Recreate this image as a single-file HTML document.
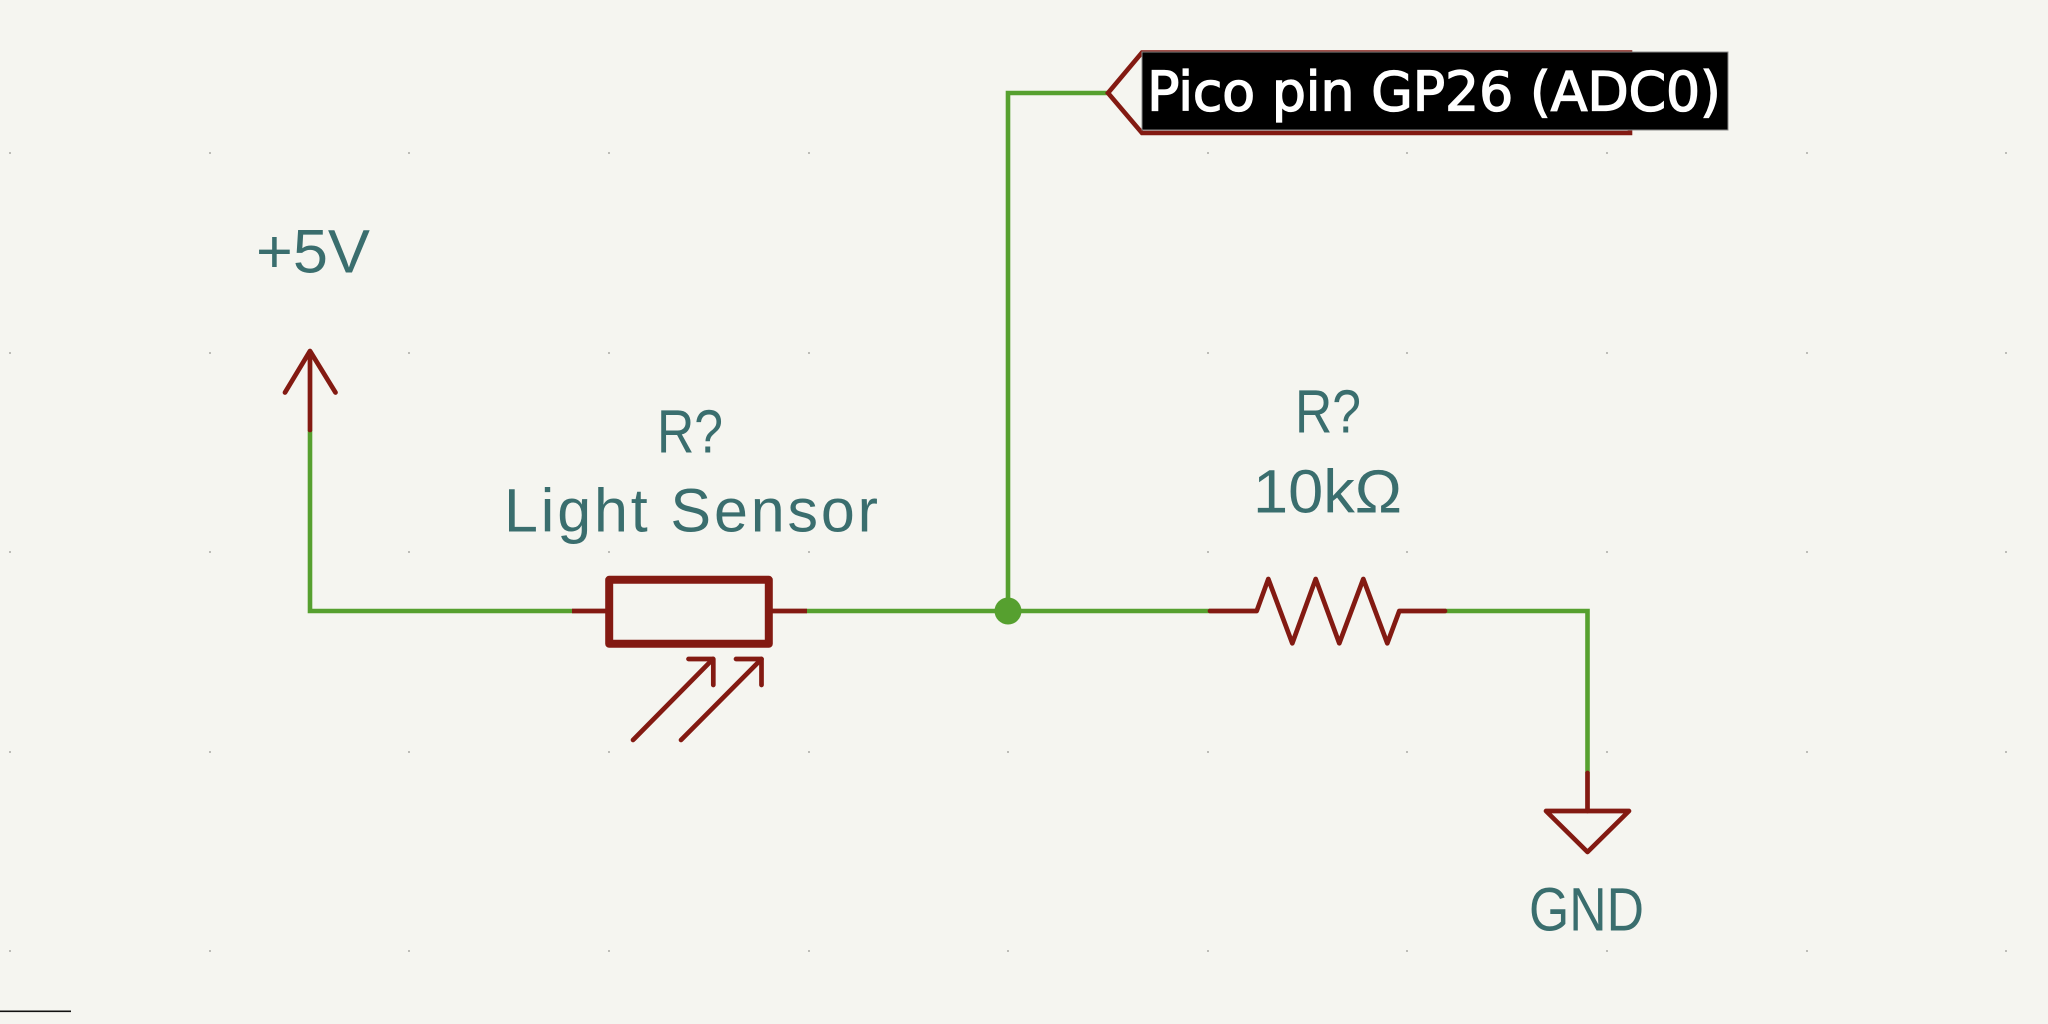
<!DOCTYPE html>
<html>
<head>
<meta charset="utf-8">
<style>
  html, body { margin: 0; padding: 0; background: #f5f5f0; }
  body { width: 2048px; height: 1024px; overflow: hidden; }
  svg { display: block; }
  .t { font-family: "Liberation Sans", "DejaVu Sans", sans-serif; font-size: 61px; fill: #3a6e6e; }
</style>
</head>
<body>
<svg width="2048" height="1024" viewBox="0 0 2048 1024" xmlns="http://www.w3.org/2000/svg">
  <rect x="0" y="0" width="2048" height="1024" fill="#f5f5f0"/>

  <!-- grid dots -->
  <g fill="#bdbdb8">
    <rect x="9" y="152" width="2" height="2"/><rect x="209" y="152" width="2" height="2"/><rect x="408" y="152" width="2" height="2"/><rect x="608" y="152" width="2" height="2"/><rect x="808" y="152" width="2" height="2"/><rect x="1007" y="152" width="2" height="2"/><rect x="1207" y="152" width="2" height="2"/><rect x="1406" y="152" width="2" height="2"/><rect x="1606" y="152" width="2" height="2"/><rect x="1806" y="152" width="2" height="2"/><rect x="2005" y="152" width="2" height="2"/>
    <rect x="9" y="352" width="2" height="2"/><rect x="209" y="352" width="2" height="2"/><rect x="408" y="352" width="2" height="2"/><rect x="608" y="352" width="2" height="2"/><rect x="808" y="352" width="2" height="2"/><rect x="1007" y="352" width="2" height="2"/><rect x="1207" y="352" width="2" height="2"/><rect x="1406" y="352" width="2" height="2"/><rect x="1606" y="352" width="2" height="2"/><rect x="1806" y="352" width="2" height="2"/><rect x="2005" y="352" width="2" height="2"/>
    <rect x="9" y="551" width="2" height="2"/><rect x="209" y="551" width="2" height="2"/><rect x="408" y="551" width="2" height="2"/><rect x="608" y="551" width="2" height="2"/><rect x="808" y="551" width="2" height="2"/><rect x="1007" y="551" width="2" height="2"/><rect x="1207" y="551" width="2" height="2"/><rect x="1406" y="551" width="2" height="2"/><rect x="1606" y="551" width="2" height="2"/><rect x="1806" y="551" width="2" height="2"/><rect x="2005" y="551" width="2" height="2"/>
    <rect x="9" y="751" width="2" height="2"/><rect x="209" y="751" width="2" height="2"/><rect x="408" y="751" width="2" height="2"/><rect x="608" y="751" width="2" height="2"/><rect x="808" y="751" width="2" height="2"/><rect x="1007" y="751" width="2" height="2"/><rect x="1207" y="751" width="2" height="2"/><rect x="1406" y="751" width="2" height="2"/><rect x="1606" y="751" width="2" height="2"/><rect x="1806" y="751" width="2" height="2"/><rect x="2005" y="751" width="2" height="2"/>
    <rect x="9" y="950" width="2" height="2"/><rect x="209" y="950" width="2" height="2"/><rect x="408" y="950" width="2" height="2"/><rect x="608" y="950" width="2" height="2"/><rect x="808" y="950" width="2" height="2"/><rect x="1007" y="950" width="2" height="2"/><rect x="1207" y="950" width="2" height="2"/><rect x="1406" y="950" width="2" height="2"/><rect x="1606" y="950" width="2" height="2"/><rect x="1806" y="950" width="2" height="2"/><rect x="2005" y="950" width="2" height="2"/>
  </g>

  <!-- bottom-left border fragment -->
  <rect x="0" y="1010.5" width="71" height="1.6" fill="#111"/>

  <!-- wires (green) -->
  <g fill="none" stroke="#56a02f" stroke-width="4.6" stroke-linejoin="miter" stroke-linecap="butt">
    <polyline points="310,430 310,611 572,611"/>
    <line x1="807" y1="611" x2="1210" y2="611"/>
    <polyline points="1008,611 1008,93 1109,93"/>
    <polyline points="1445,611 1587.5,611 1587.5,773"/>
  </g>
  <!-- junction -->
  <circle cx="1008" cy="611" r="13.5" fill="#56a02f"/>

  <!-- symbols (red) -->
  <g fill="none" stroke="#831a12" stroke-width="4.7" stroke-linecap="round" stroke-linejoin="round">
    <!-- +5V power symbol -->
    <line x1="310" y1="430" x2="310" y2="352"/>
    <polyline points="285,392.5 310,351 335.5,392.5"/>
    <!-- LDR pins -->
    <line x1="572" y1="611" x2="606" y2="611" stroke-linecap="butt"/>
    <line x1="772" y1="611" x2="807" y2="611" stroke-linecap="butt"/>
    <!-- LDR arrows -->
    <line x1="633" y1="740" x2="713" y2="659"/>
    <polyline points="688.5,659 713.3,659 713.3,685"/>
    <line x1="681" y1="740" x2="761.5" y2="659"/>
    <polyline points="736,659 761.5,659 761.5,685"/>
    <!-- resistor -->
    <polyline points="1210,611 1256.7,611 1268.3,579 1292.3,643.3 1315.7,579 1339.3,643.3 1363.3,579 1387.3,643.3 1399.3,611 1445,611"/>
    <!-- GND -->
    <line x1="1587.5" y1="773" x2="1587.5" y2="811"/>
    <polygon points="1546,811 1629,811 1587.5,852"/>
  </g>
  <!-- LDR body -->
  <rect x="609.2" y="579.8" width="159.6" height="64" fill="none" stroke="#831a12" stroke-width="8" stroke-linejoin="round"/>

  <!-- global label -->
  <polygon points="1108,93 1142,52.5 1630,52.5 1630,133 1142,133" fill="none" stroke="#831a12" stroke-width="4.6" stroke-linejoin="miter"/>
  <rect x="1142" y="52" width="586" height="78" fill="#000" stroke="#8a8a8a" stroke-width="1"/>
  <text x="1147" y="110.7" font-family="'DejaVu Sans', 'Liberation Sans', sans-serif" font-size="54" fill="#ffffff" stroke="#ffffff" stroke-width="1.3" textLength="574" lengthAdjust="spacing">Pico pin GP26 (ADC0)</text>

  <!-- text fields -->
  <text class="t" x="256" y="272.3" textLength="114" lengthAdjust="spacingAndGlyphs">+5V</text>
  <text class="t" x="657" y="452.5" textLength="66" lengthAdjust="spacingAndGlyphs">R?</text>
  <text class="t" x="504" y="531.4" textLength="374" lengthAdjust="spacing">Light Sensor</text>
  <text class="t" x="1295" y="432.3" textLength="66" lengthAdjust="spacingAndGlyphs">R?</text>
  <text class="t" x="1253" y="512.7" textLength="149" lengthAdjust="spacingAndGlyphs">10kΩ</text>
  <text class="t" x="1529" y="930.7" textLength="115" lengthAdjust="spacingAndGlyphs">GND</text>
</svg>
</body>
</html>
